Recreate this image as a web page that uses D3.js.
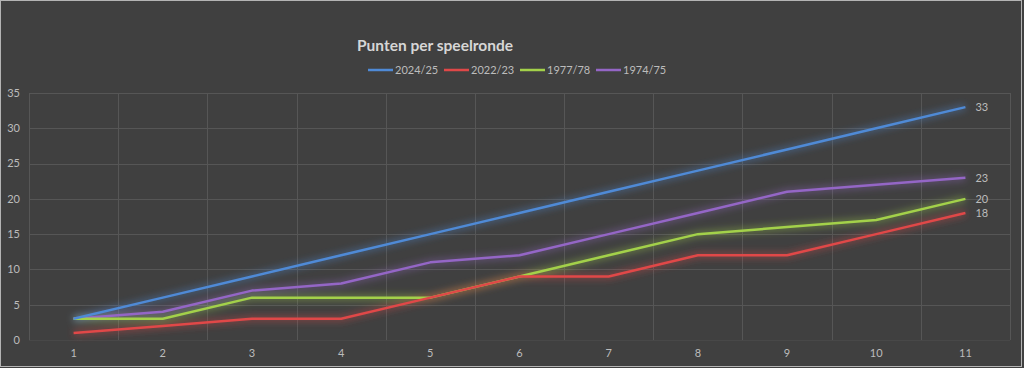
<!DOCTYPE html>
<html>
<head>
<meta charset="utf-8">
<script src="https://cdn.jsdelivr.net/npm/d3@7"></script>
<style>
  html, body { margin: 0; padding: 0; background: #404040; }
  svg { display: block; font-family: Lato, "Open Sans", sans-serif; }
</style>
</head>
<body>
<div id="chart"></div>
<script>
const rounds = [1, 2, 3, 4, 5, 6, 7, 8, 9, 10, 11];
const seasons = ["2024/25", "2022/23", "1977/78", "1974/75"];
const colors = ["#4f8ad6", "#e04848", "#a3d14a", "#9466c6"];
const pts2024 = [3, 6, 9, 12, 15, 18, 21, 24, 27, 30, 33];
const pts2022 = [1, 2, 3, 3, 6, 9, 9, 12, 12, 15, 18];
const pts1977 = [3, 3, 6, 6, 6, 9, 12, 15, 16, 17, 20];
const pts1974 = [3, 4, 7, 8, 11, 12, 15, 18, 21, 22, 23];
const yTicks = [0, 5, 10, 15, 20, 25, 30, 35];

const series = [pts2024, pts2022, pts1977, pts1974].map((values, i) => ({
  name: seasons[i],
  color: colors[i],
  values: values,
}));

const width = 1024, height = 368;
const margin = { top: 93, right: 14, bottom: 28, left: 29 };

const svg = d3.select("#chart").append("svg")
  .attr("width", width).attr("height", height);

// Glow around the lines
const filter = svg.append("defs").append("filter")
  .attr("id", "glow")
  .attr("x", "-20%").attr("y", "-50%")
  .attr("width", "140%").attr("height", "200%");
filter.append("feGaussianBlur").attr("stdDeviation", 3.5);

// Background and outer border
svg.append("rect")
  .attr("x", 0.5).attr("y", 0.5)
  .attr("width", width - 3).attr("height", height - 2)
  .attr("fill", "#404040")
  .attr("stroke", "#b4b4b4");

const x = d3.scaleBand()
  .domain(rounds)
  .range([margin.left, width - margin.right]);
const y = d3.scaleLinear()
  .domain([0, 35])
  .range([height - margin.bottom, margin.top]);

// Horizontal gridlines
svg.append("g")
  .selectAll("line")
  .data(yTicks)
  .join("line")
  .attr("x1", margin.left).attr("x2", width - margin.right)
  .attr("y1", (d) => Math.round(y(d)) + 0.5)
  .attr("y2", (d) => Math.round(y(d)) + 0.5)
  .attr("stroke", (d) => (d === 0 ? "#484848" : "#565656"));

// Vertical gridlines on the category edges
const edges = rounds.map((r) => x(r)).concat([x.range()[1]]);
svg.append("g")
  .selectAll("line")
  .data(edges)
  .join("line")
  .attr("x1", (d) => Math.round(d) + 0.5).attr("x2", (d) => Math.round(d) + 0.5)
  .attr("y1", y(35)).attr("y2", y(0))
  .attr("stroke", "#565656");

// Y tick labels
svg.append("g")
  .selectAll("text")
  .data(yTicks)
  .join("text")
  .attr("x", 20)
  .attr("y", (d) => y(d))
  .attr("dy", "0.35em")
  .attr("text-anchor", "end")
  .attr("font-size", 11)
  .attr("fill", "#bcbcbc")
  .text((d) => d);

// X tick labels
svg.append("g")
  .selectAll("text")
  .data(rounds)
  .join("text")
  .attr("x", (d) => x(d) + x.bandwidth() / 2)
  .attr("y", 353)
  .attr("dy", "0.35em")
  .attr("text-anchor", "middle")
  .attr("font-size", 11)
  .attr("fill", "#bcbcbc")
  .text((d) => d);

const line = d3.line()
  .x((d, i) => x(rounds[i]) + x.bandwidth() / 2)
  .y((d) => y(d));

// Draw glow layer first, then lines (back to front: last series at bottom)
const order = series.slice().reverse();
const glow = svg.append("g").attr("filter", "url(#glow)");
glow.selectAll("path")
  .data(order)
  .join("path")
  .attr("d", (d) => line(d.values))
  .attr("fill", "none")
  .attr("stroke", (d) => d.color)
  .attr("stroke-width", 6)
  .attr("stroke-opacity", 0.4);

svg.append("g")
  .selectAll("path")
  .data(order)
  .join("path")
  .attr("d", (d) => line(d.values))
  .attr("fill", "none")
  .attr("stroke", (d) => d.color)
  .attr("stroke-width", 2.5)
  .attr("stroke-linejoin", "round");

// End value labels
const last = rounds.length - 1;
svg.append("g")
  .selectAll("text")
  .data(series)
  .join("text")
  .attr("x", x(rounds[last]) + x.bandwidth() / 2 + 10)
  .attr("y", (d) => y(d.values[last]))
  .attr("dy", "0.35em")
  .attr("font-size", 11)
  .attr("fill", "#bcbcbc")
  .text((d) => d.values[last]);

// Title
svg.append("text")
  .attr("x", 357).attr("y", 46)
  .attr("dy", "0.35em")
  .attr("font-size", 15.5)
  .attr("font-weight", "bold")
  .attr("fill", "#d6d6d6")
  .text("Punten per speelronde");

// Legend
const legendX = [368, 444, 520, 596];
const legend = svg.append("g")
  .selectAll("g")
  .data(series)
  .join("g")
  .attr("transform", (d, i) => `translate(${legendX[i]},70)`);
legend.append("line")
  .attr("x1", 0).attr("x2", 25)
  .attr("stroke", (d) => d.color)
  .attr("stroke-width", 2.5);
legend.append("text")
  .attr("x", 27)
  .attr("dy", "0.35em")
  .attr("font-size", 11)
  .attr("fill", "#bcbcbc")
  .text((d) => d.name);
</script>
</body>
</html>
